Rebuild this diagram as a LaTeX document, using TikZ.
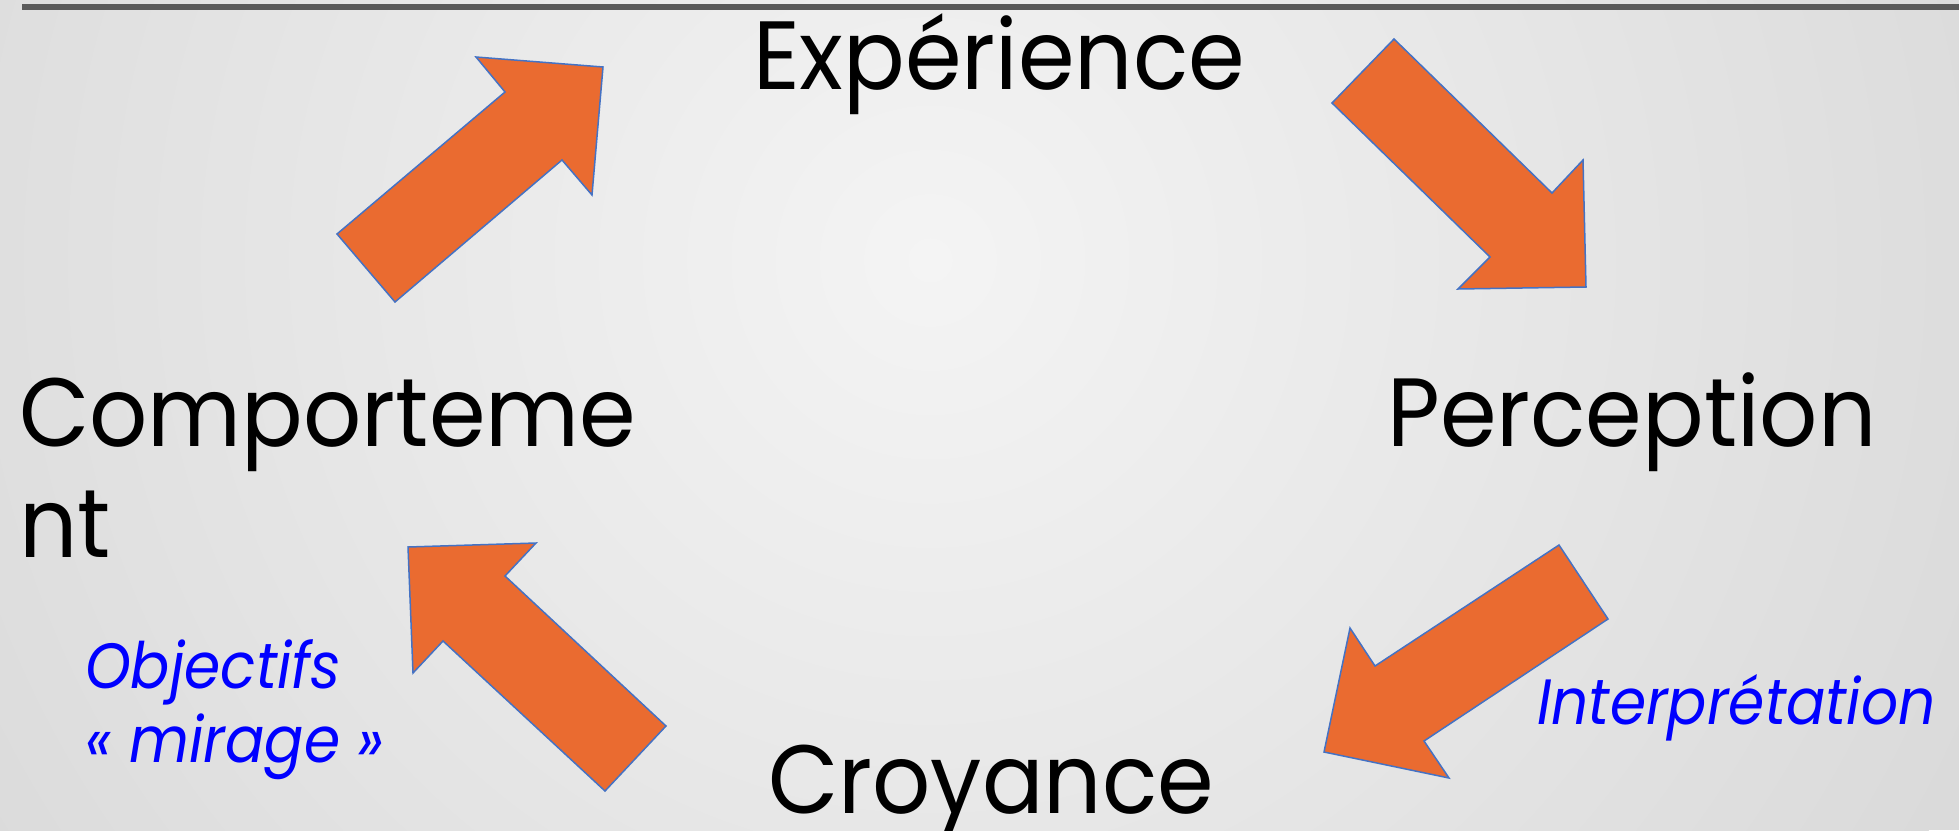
\documentclass[tikz,border=0pt]{standalone}
\usepackage{fontspec}
\setmainfont{Poppins}
\newfontfamily\motfont[FakeStretch=0.94]{Poppins}
\newfontfamily\notefont[FakeStretch=0.91]{Poppins}
\usetikzlibrary{positioning}

\definecolor{flecheorange}{RGB}{234,107,48}
\definecolor{bordbleu}{RGB}{68,114,196}
\definecolor{fondclair}{RGB}{244,244,244}
\definecolor{fondgris}{RGB}{218,218,218}
\definecolor{filet}{RGB}{90,90,90}

\tikzset{
  fleche/.style={fill=flecheorange,draw=bordbleu,line width=1.5pt,line join=miter},
  mot/.style={anchor=base west,inner sep=0pt,font=\motfont\fontsize{97}{111}\selectfont},
  note/.style={anchor=base west,inner sep=0pt,text=blue,font=\notefont\fontsize{64}{74}\selectfont\itshape}
}

\begin{document}
\begin{tikzpicture}[x=1pt,y=-1pt]
        \useasboundingbox (0,0) rectangle (1959,830);
        \begin{scope}
        \clip (0,0) rectangle (1959,830);
        \fill[fondgris] (0,0) rectangle (1959,830);
        \shade[inner color=fondclair,outer color=fondgris] (930,260) circle (1150);
        \end{scope}
        \draw[filet,line width=6.5pt] (22,7) -- (1959,7);

        % les quatre etapes du cycle
        \node[mot] at (753,89) (exp) {Expérience};
        \node[mot] at (1387,446) (per) {Perception};
        \node[mot] at (768,813) (cro) {Croyance};
        \node[mot] at (19,446) (comA) {Comporteme};
        \node[mot] at ([yshift=-111pt]comA.base west) (comB) {nt};

        % annotations
        \node[note] at (1537,724) (inter) {Interprétation};
        \node[note] at (85,688) (objA) {Objectifs};
        \node[note] at ([yshift=-74pt]objA.base west) (objB) {« mirage »};

        % fleches
        \filldraw[fleche] (337,234) -- (395,302) -- (562,160) -- (592,195)
        -- (603,67) -- (476,57) -- (505,92) -- cycle;
        \filldraw[fleche] (1394,39) -- (1332,103) -- (1490,257) -- (1458,289)
        -- (1586,287) -- (1583,160) -- (1552,193) -- cycle;
        \filldraw[fleche] (1559,545) -- (1608,619) -- (1424,741) -- (1449,778)
        -- (1324,752) -- (1350,628) -- (1375,666) -- cycle;
        \filldraw[fleche] (666,726) -- (605,791) -- (443,641) -- (413,673)
        -- (408,547) -- (536,543) -- (505,576) -- cycle;
\end{tikzpicture}
\end{document}
